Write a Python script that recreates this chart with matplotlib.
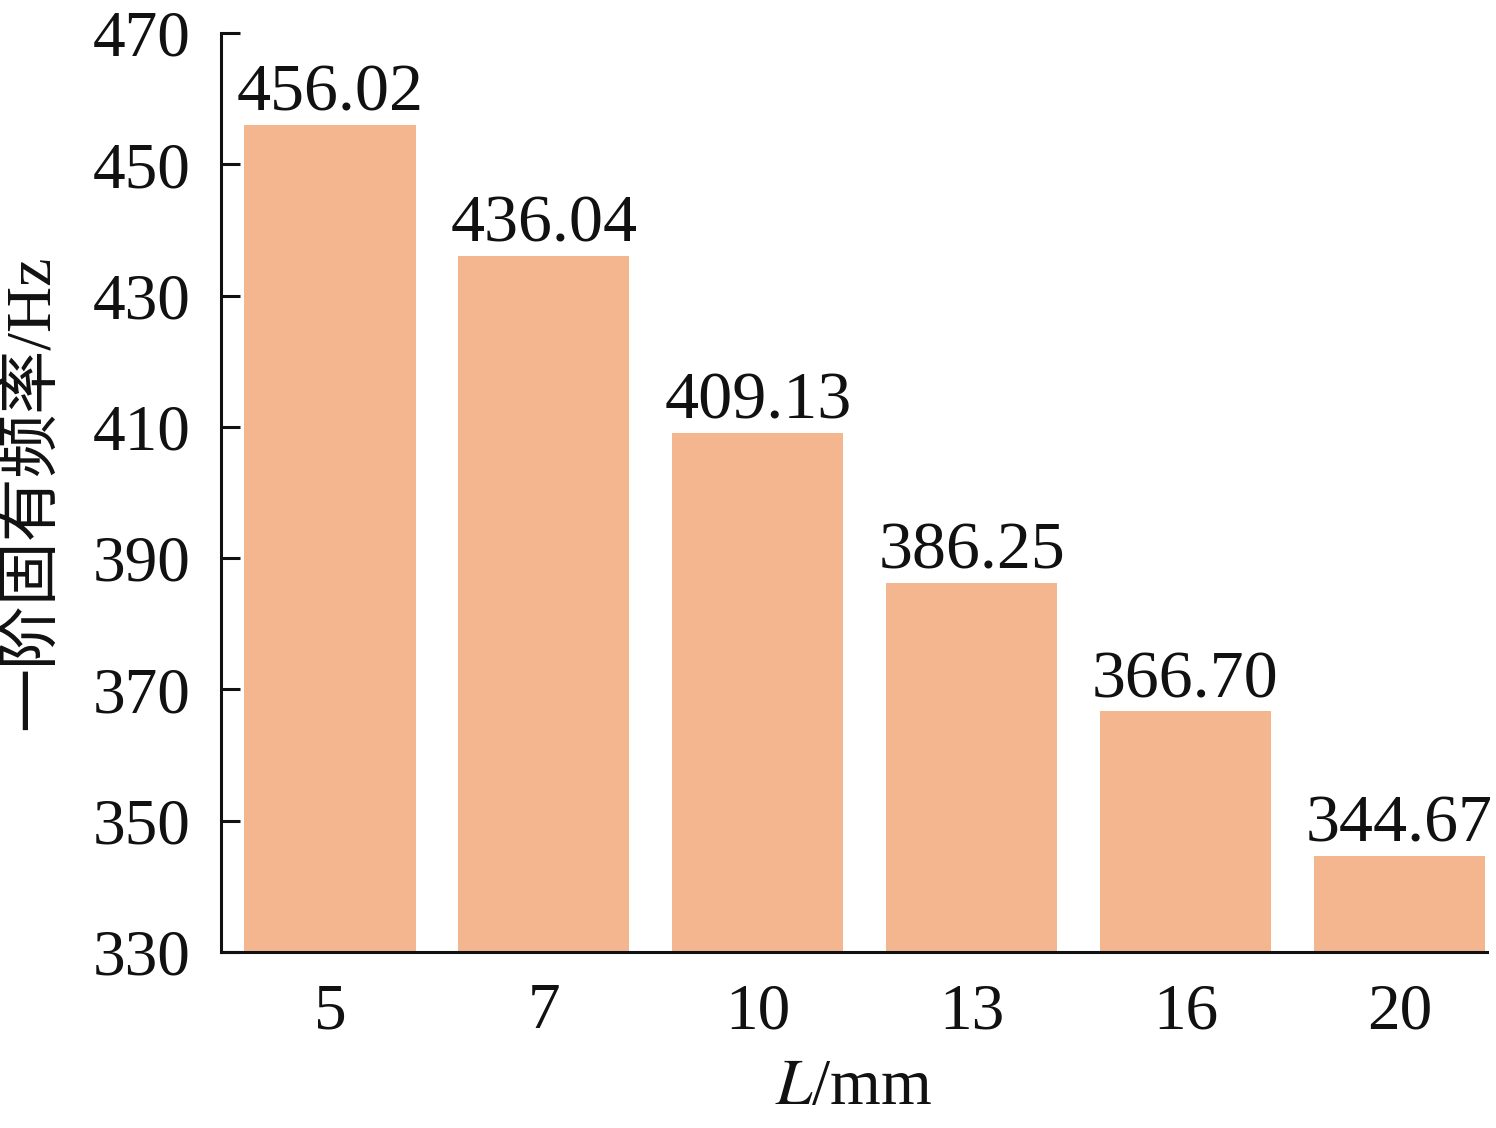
import matplotlib
matplotlib.use("Agg")
import matplotlib.pyplot as plt

categories = ["5", "7", "10", "13", "16", "20"]
values = [456.02, 436.04, 409.13, 386.25, 366.70, 344.67]
yticks = [330, 350, 370, 390, 410, 430, 450, 470]

plt.rcParams['font.family'] = ['Liberation Serif', 'Noto Sans CJK SC']
plt.rcParams['mathtext.fontset'] = 'stix'

fig = plt.figure(figsize=(14.96, 11.28), dpi=100)
ax = fig.add_axes([0.1477, 0.156, 0.994 - 0.1477, 0.9707 - 0.156])

x = list(range(len(categories)))
bars = ax.bar(x, values, width=0.8, color="#F3B68F", bottom=0)
ax.bar_label(bars, labels=[f"{v:.2f}" for v in values], padding=0, fontsize=49, color="#111111")

ax.set_ylim(330, 470)
ax.set_xlim(-0.51, 5.41)
ax.set_yticks(yticks)
ax.set_xticks(x)
ax.set_xticklabels(categories)

for s in ["top", "right"]:
    ax.spines[s].set_visible(False)
for s in ["left", "bottom"]:
    ax.spines[s].set_linewidth(2.2)
    ax.spines[s].set_color("#111111")

ax.tick_params(axis='y', direction='in', length=14, width=2.2, labelsize=47, pad=22, colors="#111111")
ax.tick_params(axis='x', length=0, labelsize=47, pad=22, colors="#111111")

ax.set_ylabel("一阶固有频率/Hz", fontsize=46, labelpad=22, color="#111111")
ax.set_xlabel("$L$/mm", fontsize=47, labelpad=12, color="#111111")

fig.savefig("out.png", dpi=100)
